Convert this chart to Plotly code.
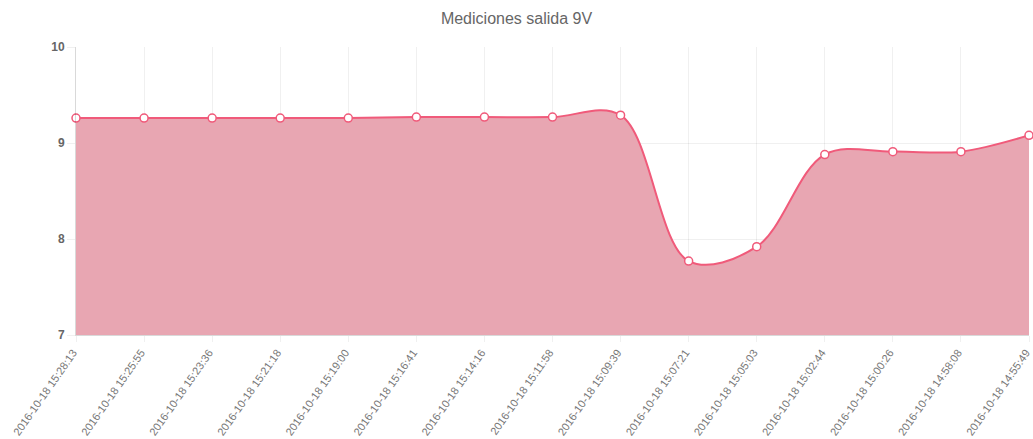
import plotly.graph_objects as go

# Timestamps of each reading (newest first) and the measured 9V output
timestamps = [
    "2016-10-18 15:28:13", "2016-10-18 15:25:55", "2016-10-18 15:23:36",
    "2016-10-18 15:21:18", "2016-10-18 15:19:00", "2016-10-18 15:16:41",
    "2016-10-18 15:14:16", "2016-10-18 15:11:58", "2016-10-18 15:09:39",
    "2016-10-18 15:07:21", "2016-10-18 15:05:03", "2016-10-18 15:02:44",
    "2016-10-18 15:00:26", "2016-10-18 14:58:08", "2016-10-18 14:55:49",
]
voltages = [9.26, 9.26, 9.26, 9.26, 9.26, 9.27, 9.27, 9.27, 9.29,
            7.77, 7.92, 8.88, 8.91, 8.91, 9.08]

y_ticks = [7, 8, 9, 10]

line_color = "rgb(240, 90, 122)"
fill_color = "rgb(232, 166, 178)"
grid_color = "rgba(0,0,0,0.06)"
font_family = "Liberation Sans, Arial, Helvetica, sans-serif"

fig = go.Figure()
fig.add_trace(go.Scatter(
    x=timestamps,
    y=voltages,
    mode="lines+markers",
    line=dict(color=line_color, width=2, shape="spline", smoothing=1.0),
    fill="tozeroy",
    fillcolor=fill_color,
    marker=dict(size=8, color="white", line=dict(color=line_color, width=1.5)),
    cliponaxis=False,
    hoverinfo="x+y",
))

fig.update_layout(
    width=1033,
    height=439,
    margin=dict(l=76, r=4, t=47, b=104),
    paper_bgcolor="white",
    plot_bgcolor="white",
    showlegend=False,
    title=dict(
        text="Mediciones salida 9V",
        x=0.5, xanchor="center",
        y=1 - 18 / 439, yanchor="middle",
        font=dict(family=font_family, size=16, color="#666"),
    ),
    font=dict(family=font_family, color="#666"),
)

fig.update_xaxes(
    type="category",
    range=[0, len(timestamps) - 1],
    automargin=False,
    tickangle=-55,
    tickfont=dict(size=11, color="#777"),
    ticklabelshift=-3,
    showgrid=True,
    gridcolor=grid_color,
    ticks="outside",
    ticklen=6,
    tickcolor=grid_color,
    showline=True,
    linecolor="rgba(0,0,0,0.15)",
    linewidth=1,
    zeroline=False,
    fixedrange=True,
)

fig.update_yaxes(
    range=[7, 10],
    automargin=False,
    tickvals=y_ticks,
    ticktext=[f"<b>{v}</b>" for v in y_ticks],
    tickfont=dict(size=12, color="#666"),
    showgrid=True,
    gridcolor=grid_color,
    ticks="outside",
    ticklen=8,
    tickcolor=grid_color,
    showline=True,
    linecolor="rgba(0,0,0,0.15)",
    linewidth=1,
    zeroline=False,
    fixedrange=True,
)

fig.write_html("out.html")
